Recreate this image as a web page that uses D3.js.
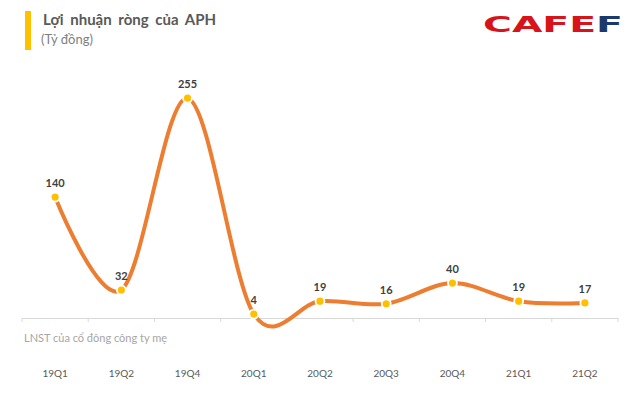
<!DOCTYPE html>
<html>
<head>
<meta charset="utf-8">
<script src="https://cdn.jsdelivr.net/npm/d3@7/dist/d3.min.js"></script>
<style>
  html, body { margin: 0; padding: 0; background: #fff; }
  svg { display: block; font-family: Lato, "Open Sans", sans-serif; }
</style>
</head>
<body>
<svg id="chart" width="640" height="400"></svg>
<script>
const categories = ["19Q1", "19Q2", "19Q4", "20Q1", "20Q2", "20Q3", "20Q4", "21Q1", "21Q2"];
const values = [140, 32, 255, 4, 19, 16, 40, 19, 17];
const seriesName = "LNST của cổ đông công ty mẹ";
const title = "Lợi nhuận ròng của APH";
const subtitle = "(Tỷ đồng)";

const svg = d3.select("#chart");
const data = categories.map((c, i) => ({ c, v: values[i] }));

const x = d3.scaleBand().domain(categories).range([22, 618]);
const y = d3.scaleLinear().domain([0, 300]).range([317.5, 59.5]);

// Title block
svg.append("rect").attr("x", 25).attr("y", 11).attr("width", 6).attr("height", 39).attr("fill", "#FFC000");
svg.append("text").attr("x", 43).attr("y", 25).attr("font-size", 15).attr("font-weight", "bold")
  .attr("fill", "#595959").attr("word-spacing", 3).text(title);
svg.append("text").attr("x", 41).attr("y", 44).attr("font-size", 13)
  .attr("fill", "#7f7f7f").text(subtitle);

// Logo
const logo = svg.append("text").attr("x", 483).attr("y", 32).attr("font-size", 21)
  .attr("font-weight", 900).attr("textLength", 140).attr("lengthAdjust", "spacingAndGlyphs")
  .attr("font-family", "'DejaVu Sans', sans-serif");
logo.append("tspan").attr("fill", "#D7141A").text("CAFE");
logo.append("tspan").attr("fill", "#1B3A6B").text("F");

// X axis
const xAxis = d3.axisBottom(x).tickSize(0).tickFormat("");
const gx = svg.append("g").attr("transform", "translate(0,318)").call(xAxis);
gx.select(".domain").attr("stroke", "#d9d9d9").attr("stroke-width", 1);
const tickPos = categories.map(c => x(c)).concat([x.range()[1]]);
gx.selectAll("line.sep").data(tickPos).enter().append("line").attr("class", "sep")
  .attr("x1", d => d).attr("x2", d => d).attr("y1", 0).attr("y2", 4)
  .attr("stroke", "#d9d9d9");

svg.append("g").selectAll("text").data(categories).enter().append("text")
  .attr("x", d => x(d) + x.bandwidth() / 2).attr("y", 377)
  .attr("text-anchor", "middle").attr("font-size", 10).attr("fill", "#595959")
  .text(d => d);

// Series label
svg.append("text").attr("x", 24).attr("y", 342).attr("font-size", 11)
  .attr("fill", "#a6a6a6").text(seriesName);

// Line
const line = d3.line()
  .x(d => x(d.c) + x.bandwidth() / 2)
  .y(d => y(d.v))
  .curve(d3.curveCardinal.tension(0));
svg.append("path").datum(data).attr("d", line).attr("fill", "none")
  .attr("stroke", "#ED7D31").attr("stroke-width", 4).attr("stroke-linecap", "round");

// Markers
svg.append("g").selectAll("circle").data(data).enter().append("circle")
  .attr("cx", d => x(d.c) + x.bandwidth() / 2).attr("cy", d => y(d.v))
  .attr("r", 4.5).attr("fill", "#FFC000").attr("stroke", "#fff").attr("stroke-width", 1.8);

// Value labels
svg.append("g").selectAll("text").data(data).enter().append("text")
  .attr("x", d => x(d.c) + x.bandwidth() / 2).attr("y", d => y(d.v) - 10)
  .attr("text-anchor", "middle").attr("font-size", 11).attr("font-weight", "bold")
  .attr("fill", "#404040").text(d => d.v);
</script>
</body>
</html>
